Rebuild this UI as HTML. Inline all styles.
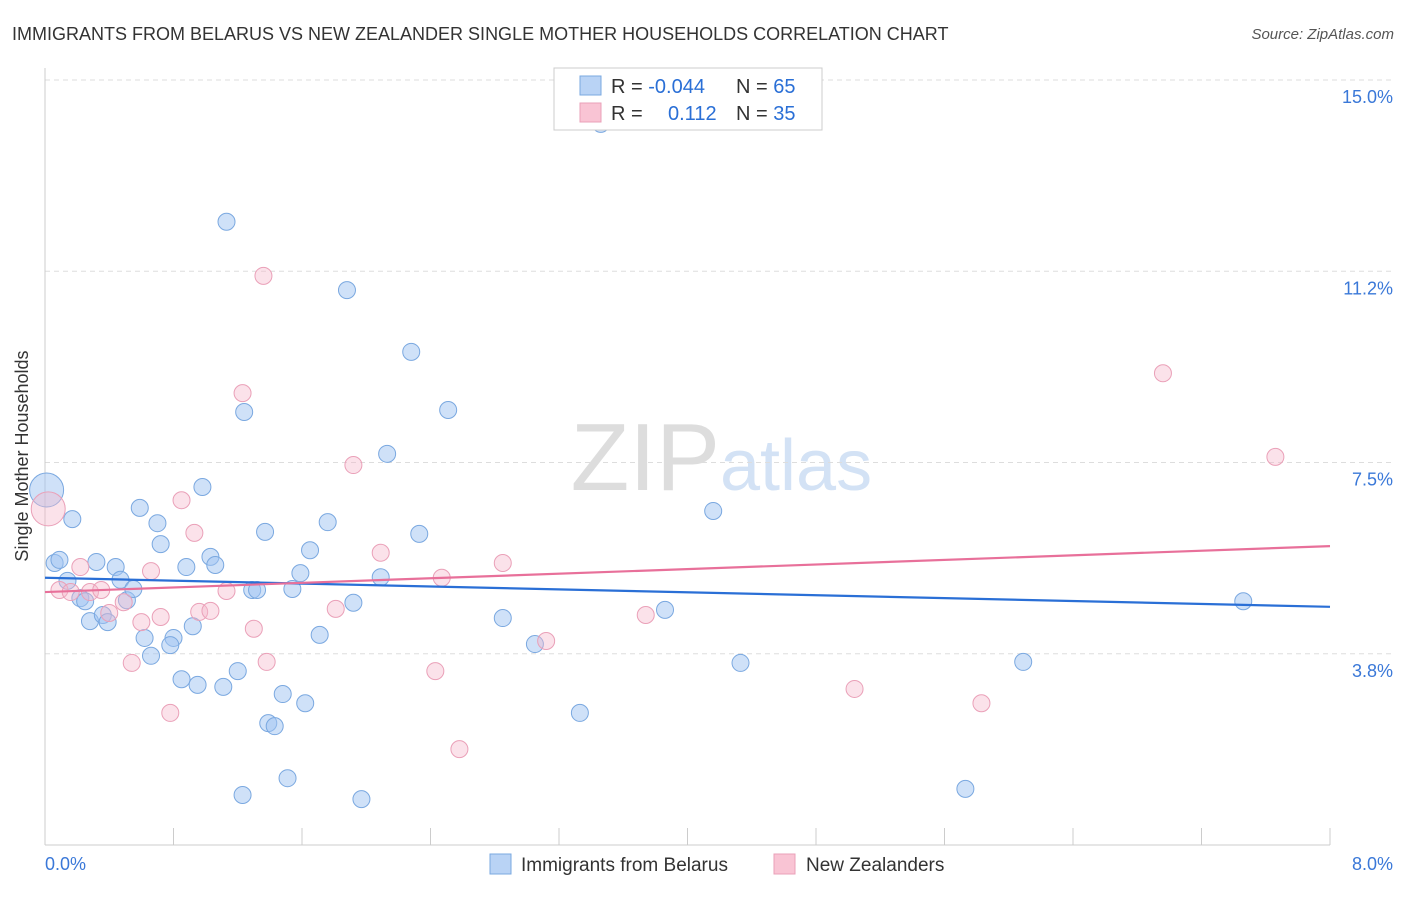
<!DOCTYPE html>
<html><head><meta charset="utf-8"><style>
body{margin:0;background:#fff;font-family:"Liberation Sans",sans-serif;}
svg text{font-family:"Liberation Sans",sans-serif;}
</style></head><body>
<svg id="chart" width="1406" height="892" xmlns="http://www.w3.org/2000/svg">
<text x="12" y="40" font-size="18" fill="#333">IMMIGRANTS FROM BELARUS VS NEW ZEALANDER SINGLE MOTHER HOUSEHOLDS CORRELATION CHART</text>
<text x="1394" y="39" font-size="15" fill="#555" font-style="italic" text-anchor="end">Source: ZipAtlas.com</text>
<text x="28" y="456" font-size="18" fill="#333" text-anchor="middle" transform="rotate(-90 28 456)">Single Mother Households</text>
<text x="720" y="490" font-size="96" fill="#ddd" text-anchor="end" font-family="Liberation Serif">ZIP</text>
<text x="720" y="490" font-size="72" fill="#d3e2f5">atlas</text>
<g id="grid"></g><g id="axes"></g><g id="pts"></g><g id="trend"></g>
<g>
<rect x="554" y="68" width="268" height="62" fill="#fff" stroke="#ccc"/>
<rect x="580" y="76" width="21" height="19" fill="#b9d3f5" stroke="#7aa8e0"/>
<rect x="580" y="103" width="21" height="19" fill="#f9c4d4" stroke="#eaa0b8"/>
<text x="611" y="93" font-size="20" fill="#333">R = <tspan fill="#2a6fd6">-0.044</tspan>  <tspan x="736">N = </tspan><tspan fill="#2a6fd6">65</tspan></text>
<text x="611" y="120" font-size="20" fill="#333">R = <tspan x="668" fill="#2a6fd6">0.112</tspan><tspan x="736">N = </tspan><tspan fill="#2a6fd6">35</tspan></text>
</g>
<g>
<rect x="490" y="854" width="21" height="20" fill="#b9d3f5" stroke="#7aa8e0"/>
<text x="521" y="871" font-size="19" fill="#333">Immigrants from Belarus</text>
<rect x="774" y="854" width="21" height="20" fill="#f9c4d4" stroke="#eaa0b8"/>
<text x="806" y="871" font-size="19" fill="#333">New Zealanders</text>
</g>
</svg>
<script>
const blueX=[0.01,0.06,0.09,0.17,0.14,0.22,0.25,0.32,0.28,0.36,0.39,0.44,0.47,0.51,0.55,0.59,0.62,0.66,0.70,0.72,0.80,0.78,0.85,0.88,0.92,0.95,0.98,1.03,1.06,1.11,1.13,1.20,1.23,1.24,1.29,1.32,1.37,1.39,1.43,1.48,1.51,1.54,1.59,1.62,1.65,1.71,1.76,1.88,1.92,1.97,2.09,2.13,2.28,2.33,2.51,2.85,3.05,3.33,3.46,3.86,4.16,4.33,5.73,6.09,7.46];
const blueY=[6.96,5.53,5.59,6.39,5.18,4.84,4.78,5.55,4.39,4.51,4.37,5.45,5.20,4.80,5.02,6.61,4.06,3.71,6.31,5.90,4.06,3.92,3.25,5.45,4.29,3.14,7.02,5.65,5.49,3.10,12.22,3.41,0.98,8.49,5.00,5.00,6.14,2.39,2.33,2.96,1.31,5.02,5.33,2.78,5.78,4.12,6.33,10.88,4.75,0.90,5.25,7.67,9.67,6.10,8.53,4.45,3.94,2.59,14.14,4.61,6.55,3.57,1.10,3.59,4.78];
const pinkX=[0.02,0.09,0.16,0.22,0.28,0.35,0.40,0.49,0.54,0.60,0.66,0.72,0.78,0.85,0.93,0.96,1.03,1.13,1.23,1.30,1.36,1.38,1.81,1.92,2.09,2.43,2.47,2.58,2.85,3.12,3.74,5.04,5.83,6.96,7.66];
const pinkY=[6.59,5.00,4.96,5.45,4.96,5.00,4.55,4.76,3.57,4.37,5.37,4.47,2.59,6.76,6.12,4.57,4.59,4.98,8.86,4.24,11.16,3.59,4.63,7.45,5.73,3.41,5.24,1.88,5.53,4.00,4.51,3.06,2.78,9.25,7.61];
const blueTrend=[5.24,4.67];
const pinkTrend=[4.96,5.86];
const yTicks=[3.75,7.5,11.25,15];
const yTickLabels=["3.8%","7.5%","11.2%","15.0%"];
const xTicks=[0,0.8,1.6,2.4,3.2,4.0,4.8,5.6,6.4,7.2,8.0];
const NS="http://www.w3.org/2000/svg";
const X=v=>45+v/8*1285, Y=v=>845-v*51;
function mk(tag,attrs,parent){const e=document.createElementNS(NS,tag);for(const k in attrs)e.setAttribute(k,attrs[k]);document.getElementById(parent).appendChild(e);return e;}
yTicks.forEach((t,i)=>{
 const l=mk('line',{x1:45,x2:1394,y1:Y(t),y2:Y(t),stroke:'#ddd','stroke-dasharray':'5,4'},'grid');
 
 
 const tx=mk('text',{x:1393,y:Y(t)+23,'font-size':18,fill:'#3a78d8','text-anchor':'end'},'grid');
 tx.textContent=yTickLabels[i];
 
 
});
const ax=mk('line',{x1:45,x2:1330,y1:845,y2:845,stroke:'#ccc'},'axes');


const ay=mk('line',{x1:45,x2:45,y1:68,y2:845,stroke:'#ccc'},'axes');


xTicks.forEach(t=>{
 const l=mk('line',{x1:X(t),x2:X(t),y1:828,y2:845,stroke:'#ccc'},'axes');
 
 
});
const xl0=mk('text',{x:45,y:870,'font-size':18,fill:'#3a78d8'},'axes');xl0.textContent='0.0%';


const xl1=mk('text',{x:1393,y:870,'font-size':18,fill:'#3a78d8','text-anchor':'end'},'axes');xl1.textContent='8.0%';


blueX.forEach((v,i)=>{
 const c=mk('circle',{cx:X(v),cy:Y(blueY[i]),r:i===0?17:8.5,fill:'rgba(160,196,242,0.5)',stroke:'#7aa8e0','stroke-width':1},'pts');
 
 
});
pinkX.forEach((v,i)=>{
 const c=mk('circle',{cx:X(v),cy:Y(pinkY[i]),r:i===0?17:8.5,fill:'rgba(246,182,202,0.4)',stroke:'#eaa0b8','stroke-width':1},'pts');
 
 
});
const tb=mk('line',{x1:X(0),y1:Y(blueTrend[0]),x2:X(8),y2:Y(blueTrend[1]),stroke:'#2a6fd6','stroke-width':2.2},'trend');


const tp=mk('line',{x1:X(0),y1:Y(pinkTrend[0]),x2:X(8),y2:Y(pinkTrend[1]),stroke:'#e8709a','stroke-width':2.2},'trend');


</script>
</body></html>
